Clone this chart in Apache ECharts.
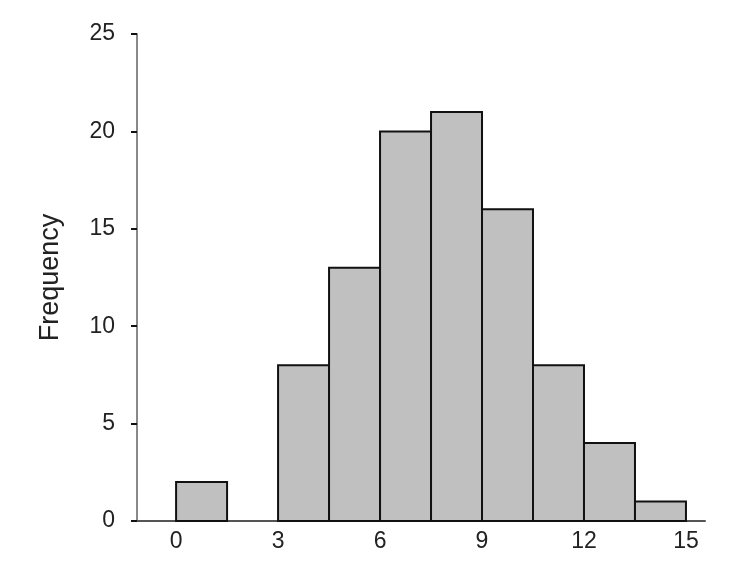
<!DOCTYPE html>
<html>
<head>
<meta charset="utf-8">
<script src="https://cdn.jsdelivr.net/npm/echarts@6/dist/echarts.min.js"></script>
<style>
html,body{margin:0;padding:0;background:#fff;}
#c{width:745px;height:566px;}
</style>
</head>
<body>
<div id="c"></div>
<script>
const binEdges = [0, 1.5, 3, 4.5, 6, 7.5, 9, 10.5, 12, 13.5, 15];
const frequencies = [2, 0, 8, 13, 20, 21, 16, 8, 4, 1];
const xTickLabels = [0, 3, 6, 9, 12, 15];
const yTicks = [0, 5, 10, 15, 20, 25];

const histData = frequencies.map((f, i) => [binEdges[i], binEdges[i + 1], f]);

const chart = echarts.init(document.getElementById('c'));
const font = '"Liberation Sans", Arial, sans-serif';
chart.setOption({
  backgroundColor: '#fff',
  animation: false,
  grid: { left: 137, right: 40, top: 34, bottom: 45 },
  xAxis: {
    type: 'value',
    min: -1.15,
    max: 15.56,
    splitLine: { show: false },
    axisLine: { onZero: false, lineStyle: { color: '#555', width: 2 } },
    axisTick: { show: false },
    axisLabel: {
      customValues: xTickLabels,
      color: '#222', fontFamily: font, fontSize: 23, margin: 9
    }
  },
  yAxis: {
    type: 'value',
    min: yTicks[0],
    max: yTicks[yTicks.length - 1],
    interval: 5,
    name: 'Frequency',
    nameLocation: 'middle',
    nameRotate: 90,
    nameGap: 73,
    nameTextStyle: { color: '#222', fontFamily: font, fontSize: 27 },
    splitLine: { show: false },
    axisLine: { show: true, onZero: false, lineStyle: { color: '#888', width: 2 } },
    axisTick: { show: true, length: 6, lineStyle: { color: '#111', width: 2 } },
    axisLabel: { color: '#222', fontFamily: font, fontSize: 23, margin: 22 }
  },
  series: [{
    type: 'custom',
    data: histData,
    encode: { x: [0, 1], y: 2 },
    renderItem: function (params, api) {
      const v = api.value(2);
      if (!v) return null;
      const p0 = api.coord([api.value(0), v]);
      const p1 = api.coord([api.value(1), 0]);
      return {
        type: 'rect',
        shape: { x: p0[0], y: p0[1], width: p1[0] - p0[0], height: p1[1] - p0[1] },
        style: { fill: '#c0c0c0', stroke: '#111', lineWidth: 2 }
      };
    }
  }]
});
</script>
</body>
</html>
